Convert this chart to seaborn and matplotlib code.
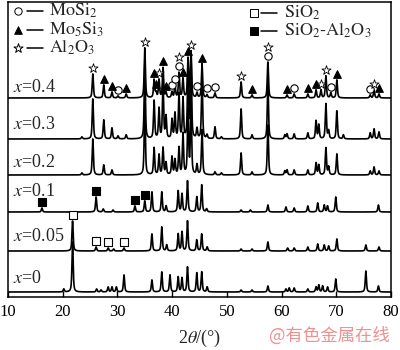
import numpy as np
import pandas as pd
import matplotlib
matplotlib.use("Agg")
import matplotlib.pyplot as plt
import seaborn as sns

# ---------------- data ----------------
samples = ["x=0", "x=0.05", "x=0.1", "x=0.2", "x=0.3", "x=0.4"]
sample_labels = [r"$x$=0", r"$x$=0.05", r"$x$=0.1", r"$x$=0.2", r"$x$=0.3", r"$x$=0.4"]
offsets = [5, 46, 85, 122, 158, 199]

pos_x0 = [20.2, 21.8, 26.2, 27.0, 28.3, 29.0, 29.8, 31.2, 36.3, 38.1, 39.6, 41.1, 41.8, 42.8, 44.5,
          45.4, 46.4, 52.6, 54.6, 57.5, 60.8, 61.4, 62.3, 64.8, 66.3, 66.8, 67.5, 68.4, 69.9,
          75.4, 77.7]
h_x0 = [3, 50, 3, 2, 5, 5, 5, 17, 12, 20, 17, 15, 14, 25, 19,
        20, 5, 2, 2, 6, 3, 4, 4, 3, 5, 7, 6, 5, 13,
        21, 6]

pos_x005 = [21.8, 26.1, 28.3, 29.3, 31.2, 36.3, 38.1, 39.0, 41.1, 41.8, 42.8, 44.5, 45.4, 46.4,
            52.6, 54.6, 57.5, 61.1, 62.3, 64.8, 66.6, 67.8, 68.6, 70.1, 75.4, 77.8]
h_x005 = [30, 4, 3, 2, 3, 17, 24, 6, 17, 19, 30, 11, 17, 4,
          2, 2, 9, 3, 3, 4, 7, 6, 5, 12, 6, 4]

pos_x01 = [16.2, 26.1, 27.4, 29.2, 33.2, 35.0, 36.3, 38.1, 38.9, 41.1, 41.8, 42.8, 44.5, 45.4,
           46.3, 52.6, 54.3, 57.5, 60.8, 62.3, 64.8, 66.6, 67.8, 68.4, 69.9, 77.7]
h_x01 = [4, 15, 3, 2, 6, 11, 20, 20, 6, 21, 18, 31, 15, 27,
         3, 2, 2, 7, 5, 4, 6, 9, 7, 6, 15, 7]

pos_x02 = [23.5, 25.5, 27.5, 29.0, 35.0, 36.7, 37.6, 38.33, 38.88, 39.97, 40.52, 41.25, 41.98,
           42.9, 43.45, 44.54, 45.46, 47.83, 49.0, 52.6, 54.6, 57.5, 60.6, 61.0, 62.3, 64.8,
           66.3, 66.8, 68.1, 68.6, 70.1, 76.2, 76.9, 77.8]
h_x02 = [2, 36, 10, 5, 70, 27, 20, 27, 12, 18, 15, 27, 41,
         65, 70, 10, 45, 3, 2, 22, 3, 50, 4, 5, 5, 5,
         12, 10, 27, 8, 21, 4, 8, 4]

pos_x03 = [23.5, 25.5, 27.5, 29.0, 30.1, 31.6, 35.0, 36.7, 37.6, 38.33, 38.88, 39.97, 40.52,
           41.25, 41.98, 42.9, 43.45, 44.54, 45.46, 46.37, 47.83, 49.0, 52.6, 54.6, 57.5, 60.6,
           61.0, 62.3, 64.8, 66.3, 66.8, 68.1, 68.6, 70.1, 71.3, 76.2, 76.9, 77.8]
h_x03 = [2, 40, 19, 11, 3, 4, 75, 38, 30, 55, 22, 19, 25,
         45, 40, 75, 80, 10, 60, 4, 12, 2, 30, 4, 55, 4,
         5, 5, 6, 18, 14, 35, 8, 28, 4, 6, 10, 7]

pos_x04 = [25.5, 27.5, 29.0, 30.1, 31.6, 35.0, 36.7, 37.05, 37.6, 38.33, 38.88, 39.97, 40.52,
           41.25, 41.98, 42.9, 43.45, 44.54, 45.46, 46.37, 47.83, 52.6, 54.6, 57.5, 61.0, 62.3,
           64.8, 66.3, 67.2, 68.1, 69.0, 70.1, 76.2, 76.9, 77.8]
h_x04 = [24, 13, 6, 2, 4, 50, 18, 5, 18, 30, 5, 6, 12,
         25, 19, 39, 46, 5, 34, 3, 5, 16, 3, 36, 3, 4,
         4, 8, 8, 22, 5, 18, 3, 8, 4]

# phase markers
mosi2_x04 = [30.1, 39.97, 40.52, 41.25, 44.54, 46.37, 47.83, 57.5, 62.3, 69.0, 76.2]
mo5si3_x04 = [27.5, 29.0, 31.6, 36.7, 37.05, 38.33, 38.88, 41.98, 42.9, 45.46, 54.6, 61.0,
              64.8, 66.3, 70.1, 77.8]
al2o3_x04 = [25.5, 35.0, 37.6, 41.25, 43.45, 52.6, 57.5, 67.2, 68.1, 76.9]
sio2_x005 = [21.8, 26.1, 28.3, 31.2]
sio2al2o3_x01 = [16.2, 26.1, 33.2, 35.0]

legend_left = [r"$\mathrm{MoSi_2}$", r"$\mathrm{Mo_5Si_3}$", r"$\mathrm{Al_2O_3}$"]
legend_right = [r"$\mathrm{SiO_2}$", r"$\mathrm{SiO_2\text{-}Al_2O_3}$"]
x_ticks = [10, 20, 30, 40, 50, 60, 70, 80]

peak_pos = [pos_x0, pos_x005, pos_x01, pos_x02, pos_x03, pos_x04]
peak_h = [h_x0, h_x005, h_x01, h_x02, h_x03, h_x04]

# ---------------- build profiles ----------------
tt = np.arange(10.0, 80.0001, 0.02)


def profile(pos_list, h_list, fwhm=0.26, eta=0.6):
    y = np.zeros_like(tt)
    for p, h in zip(pos_list, h_list):
        d = (tt - p) / fwhm
        g = np.exp(-4 * np.log(2) * d ** 2)
        lo = 1.0 / (1.0 + 4 * d ** 2)
        y += h * (eta * lo + (1 - eta) * g)
    return y


frames = []
curves = {}
for s, off, P, H in zip(samples, offsets, peak_pos, peak_h):
    y = profile(P, H) + off
    curves[s] = y
    frames.append(pd.DataFrame({"two_theta": tt, "intensity": y, "sample": s}))
df = pd.concat(frames, ignore_index=True)

# ---------------- plotting ----------------
sns.set_theme(style="white")
plt.rcParams["font.family"] = ["Liberation Serif", "DejaVu Serif"]
plt.rcParams["mathtext.fontset"] = "stix"

fig = plt.figure(figsize=(4.0, 3.5), dpi=100)
ax = fig.add_axes([0.02, 0.1514, 0.9575, 0.843])

sns.lineplot(data=df, x="two_theta", y="intensity", hue="sample",
             palette={s: "black" for s in samples}, estimator=None, sort=False,
             legend=False, linewidth=1.2, ax=ax)


def marker_y(sample, p, stack=0):
    y = curves[sample]
    m = np.abs(tt - p) < 0.18
    return y[m].max() + 6 + 9 * stack


def draw_markers(sample, positions, marker, fc, s, lw=0.8, stacked=()):
    xs, ys = [], []
    for p in positions:
        st = 1 if p in stacked else 0
        xs.append(p)
        ys.append(marker_y(sample, p, st))
    ax.scatter(xs, ys, marker=marker, s=s, facecolors=fc, edgecolors="black",
               linewidths=lw, zorder=5)


draw_markers("x=0.4", mosi2_x04, "o", "white", 28)
draw_markers("x=0.4", mo5si3_x04, "^", "black", 30)
draw_markers("x=0.4", al2o3_x04, "*", "white", 48, lw=0.6,
             stacked=[p for p in al2o3_x04 if p in mosi2_x04])
draw_markers("x=0.05", sio2_x005, "s", "white", 26)
draw_markers("x=0.1", sio2al2o3_x01, "s", "black", 26)

# sample labels
label_dy = [14, 14, 20, 12, 14, 10]
for lab, off, dy in zip(sample_labels, offsets, label_dy):
    ax.text(10.9, off + dy, lab, fontsize=13, va="center", ha="left")

# legends (drawn manually like the reference)
leg_left_y = [286, 267, 249]
for (mk, fc, s), lab, yy in zip([("o", "white", 28), ("^", "black", 30), ("*", "white", 48)],
                                legend_left, leg_left_y):
    ax.scatter([11.8], [yy], marker=mk, s=s, facecolors=fc, edgecolors="black",
               linewidths=0.7, zorder=5)
    ax.plot([13.5, 16.4], [yy, yy], color="black", lw=1.1)
    ax.text(17.5, yy, lab, fontsize=13, va="center", ha="left")

leg_right_y = [284, 266]
for (mk, fc), lab, yy in zip([("s", "white"), ("s", "black")], legend_right, leg_right_y):
    ax.scatter([55.0], [yy], marker=mk, s=26, facecolors=fc, edgecolors="black",
               linewidths=0.7, zorder=5)
    ax.plot([56.2, 59.2], [yy, yy], color="black", lw=1.1)
    ax.text(60.4, yy, lab, fontsize=13, va="center", ha="left")

ax.set_xlim(10, 80)
ax.set_ylim(0, 295)
ax.set_xticks(x_ticks)
ax.set_xticklabels([str(t) for t in x_ticks], fontsize=12)
ax.set_yticks([])
ax.set_ylabel("")
ax.tick_params(axis="x", direction="in", length=4, width=1.0, bottom=True, pad=5,
               colors="black")
for sp in ax.spines.values():
    sp.set_color("black")
    sp.set_linewidth(1.1)
    sp.set_visible(True)

ax.set_xlabel(r"2$\theta$/(°)", fontsize=13)
ax.xaxis.set_label_coords(0.5, -0.105)

fig.text(0.975, 0.04, "@有色金属在线", ha="right", va="center", fontsize=12.5,
         color="#f09090", family=["Noto Sans CJK SC", "DejaVu Sans"])

fig.savefig("out.png", dpi=100)
